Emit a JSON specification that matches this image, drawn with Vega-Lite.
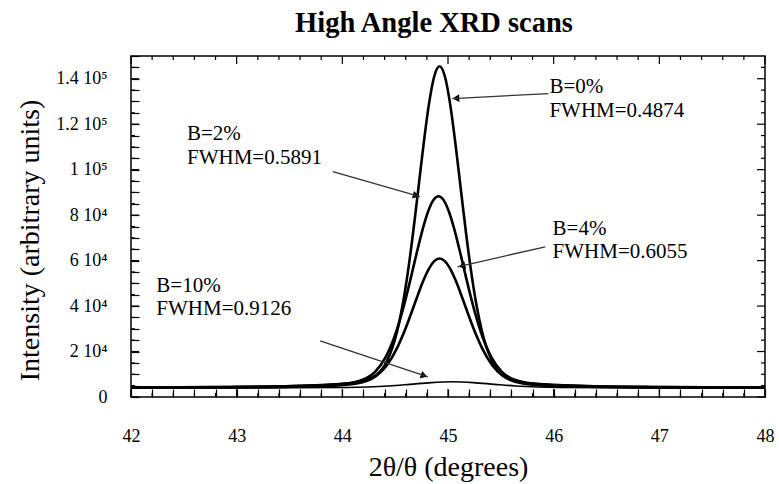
{
  "$schema": "https://vega.github.io/schema/vega-lite/v6.json",
  "width": 634,
  "height": 341,
  "autosize": "none",
  "padding": {"left": 131, "top": 56, "right": 14, "bottom": 87},
  "background": "white",
  "config": {
    "view": {"stroke": "#000", "strokeWidth": 1.5},
    "font": "Liberation Serif",
    "axis": {"grid": false, "domain": false, "tickColor": "#000", "tickWidth": 1.2, "labelColor": "#000", "titleColor": "#000", "labelFont": "Liberation Serif", "titleFont": "Liberation Serif", "titleFontWeight": "normal"}
  },
  "title": {"text": "High Angle XRD scans", "font": "Liberation Serif", "fontSize": 28.5, "fontWeight": "bold", "color": "#000", "anchor": "middle", "dx": -14, "offset": 10},
  "datasets": {
    "xmaj": [{"v": 42}, {"v": 43}, {"v": 44}, {"v": 45}, {"v": 46}, {"v": 47}, {"v": 48}],
    "xmin": [{"v": 42.2}, {"v": 42.4}, {"v": 42.6}, {"v": 42.8}, {"v": 43.2}, {"v": 43.4}, {"v": 43.6}, {"v": 43.8}, {"v": 44.2}, {"v": 44.4}, {"v": 44.6}, {"v": 44.8}, {"v": 45.2}, {"v": 45.4}, {"v": 45.6}, {"v": 45.8}, {"v": 46.2}, {"v": 46.4}, {"v": 46.6}, {"v": 46.8}, {"v": 47.2}, {"v": 47.4}, {"v": 47.6}, {"v": 47.8}],
    "ymaj": [{"v": 0}, {"v": 20000}, {"v": 40000}, {"v": 60000}, {"v": 80000}, {"v": 100000}, {"v": 120000}, {"v": 140000}],
    "ymin": [{"v": 5000}, {"v": 10000}, {"v": 15000}, {"v": 25000}, {"v": 30000}, {"v": 35000}, {"v": 45000}, {"v": 50000}, {"v": 55000}, {"v": 65000}, {"v": 70000}, {"v": 75000}, {"v": 85000}, {"v": 90000}, {"v": 95000}, {"v": 105000}, {"v": 110000}, {"v": 115000}, {"v": 125000}, {"v": 130000}, {"v": 135000}, {"v": 145000}]
  },
  "layer": [
    {
      "encoding": {
        "x": {"field": "x", "type": "quantitative", "scale": {"domain": [42, 48], "nice": false, "zero": false},
          "axis": {"orient": "bottom", "values": [42,42.2,42.4,42.6,42.8,43,43.2,43.4,43.6,43.8,44,44.2,44.4,44.6,44.8,45,45.2,45.4,45.6,45.8,46,46.2,46.4,46.6,46.8,47,47.2,47.4,47.6,47.8,48],
            "tickSize": -8,
            "labelExpr": "abs(datum.value - round(datum.value)) < 0.001 ? format(datum.value, 'd') : ''",
            "labelFontSize": 18, "labelPadding": 38, "labelFlush": false, "labelOverlap": false,
            "title": "2θ/θ (degrees)", "titleFontSize": 28, "titleX": 317, "titleY": 78, "titleBaseline": "alphabetic", "titleAlign": "center", "titleAnchor": null}},
        "y": {"field": "y", "type": "quantitative", "scale": {"domain": [0, 150000], "nice": false},
          "axis": {"orient": "left", "values": [0,5000,10000,15000,20000,25000,30000,35000,40000,45000,50000,55000,60000,65000,70000,75000,80000,85000,90000,95000,100000,105000,110000,115000,120000,125000,130000,135000,140000,145000,150000],
            "tickSize": -8,
            "labelExpr": "datum.value === 0 ? '0' : (datum.value % 20000 !== 0 || datum.value > 140000) ? '' : datum.value < 100000 ? format(datum.value / 10000, 'd') + ' 10⁴' : (datum.value / 100000) + ' 10⁵'",
            "labelFontSize": 18, "labelPadding": 32, "labelOverlap": false, "labelFlush": false,
            "title": "Intensity (arbitrary units)", "titleFontSize": 28, "titleX": -93, "titleY": 184, "titleBaseline": "alphabetic", "titleAlign": "center", "titleAngle": -90}}
      },
      "layer": [
        {
          "data": {"values": [
            {"s": "B=0%", "x": 42, "y": 4190}, {"s": "B=0%", "x": 42.92, "y": 4410}, {"s": "B=0%", "x": 43.42, "y": 4730}, {"s": "B=0%", "x": 43.92, "y": 5590}, {"s": "B=0%", "x": 44.12, "y": 6460}, {"s": "B=0%", "x": 44.32, "y": 9700}, {"s": "B=0%", "x": 44.42, "y": 15550}, {"s": "B=0%", "x": 44.52, "y": 29160}, {"s": "B=0%", "x": 44.57, "y": 40340}, {"s": "B=0%", "x": 44.62, "y": 54840}, {"s": "B=0%", "x": 44.67, "y": 72370}, {"s": "B=0%", "x": 44.72, "y": 91890}, {"s": "B=0%", "x": 44.77, "y": 111580}, {"s": "B=0%", "x": 44.82, "y": 128960}, {"s": "B=0%", "x": 44.87, "y": 141100}, {"s": "B=0%", "x": 44.92, "y": 145500}, {"s": "B=0%", "x": 44.97, "y": 141100}, {"s": "B=0%", "x": 45.02, "y": 128960}, {"s": "B=0%", "x": 45.07, "y": 111580}, {"s": "B=0%", "x": 45.12, "y": 91890}, {"s": "B=0%", "x": 45.17, "y": 72370}, {"s": "B=0%", "x": 45.22, "y": 54840}, {"s": "B=0%", "x": 45.27, "y": 40340}, {"s": "B=0%", "x": 45.32, "y": 29160}, {"s": "B=0%", "x": 45.42, "y": 15550}, {"s": "B=0%", "x": 45.52, "y": 9700}, {"s": "B=0%", "x": 45.72, "y": 6460}, {"s": "B=0%", "x": 45.92, "y": 5590}, {"s": "B=0%", "x": 46.42, "y": 4730}, {"s": "B=0%", "x": 46.92, "y": 4410}, {"s": "B=0%", "x": 48, "y": 4180},
            {"s": "B=2%", "x": 42, "y": 4160}, {"s": "B=2%", "x": 42.91, "y": 4360}, {"s": "B=2%", "x": 43.41, "y": 4630}, {"s": "B=2%", "x": 43.91, "y": 5370}, {"s": "B=2%", "x": 44.11, "y": 6420}, {"s": "B=2%", "x": 44.31, "y": 11070}, {"s": "B=2%", "x": 44.41, "y": 17500}, {"s": "B=2%", "x": 44.51, "y": 28710}, {"s": "B=2%", "x": 44.56, "y": 36340}, {"s": "B=2%", "x": 44.61, "y": 45140}, {"s": "B=2%", "x": 44.66, "y": 54730}, {"s": "B=2%", "x": 44.71, "y": 64540}, {"s": "B=2%", "x": 44.76, "y": 73730}, {"s": "B=2%", "x": 44.81, "y": 81380}, {"s": "B=2%", "x": 44.86, "y": 86500}, {"s": "B=2%", "x": 44.91, "y": 88300}, {"s": "B=2%", "x": 44.96, "y": 86500}, {"s": "B=2%", "x": 45.01, "y": 81380}, {"s": "B=2%", "x": 45.06, "y": 73730}, {"s": "B=2%", "x": 45.11, "y": 64540}, {"s": "B=2%", "x": 45.16, "y": 54730}, {"s": "B=2%", "x": 45.21, "y": 45140}, {"s": "B=2%", "x": 45.26, "y": 36340}, {"s": "B=2%", "x": 45.31, "y": 28710}, {"s": "B=2%", "x": 45.41, "y": 17500}, {"s": "B=2%", "x": 45.51, "y": 11070}, {"s": "B=2%", "x": 45.71, "y": 6420}, {"s": "B=2%", "x": 45.91, "y": 5370}, {"s": "B=2%", "x": 46.41, "y": 4630}, {"s": "B=2%", "x": 46.91, "y": 4360}, {"s": "B=2%", "x": 48, "y": 4150},
            {"s": "B=4%", "x": 42, "y": 4120}, {"s": "B=4%", "x": 42.92, "y": 4250}, {"s": "B=4%", "x": 43.42, "y": 4450}, {"s": "B=4%", "x": 43.92, "y": 4980}, {"s": "B=4%", "x": 44.12, "y": 5790}, {"s": "B=4%", "x": 44.32, "y": 9300}, {"s": "B=4%", "x": 44.42, "y": 13920}, {"s": "B=4%", "x": 44.52, "y": 21720}, {"s": "B=4%", "x": 44.57, "y": 26900}, {"s": "B=4%", "x": 44.62, "y": 32790}, {"s": "B=4%", "x": 44.67, "y": 39140}, {"s": "B=4%", "x": 44.72, "y": 45560}, {"s": "B=4%", "x": 44.77, "y": 51530}, {"s": "B=4%", "x": 44.82, "y": 56470}, {"s": "B=4%", "x": 44.87, "y": 59750}, {"s": "B=4%", "x": 44.92, "y": 60900}, {"s": "B=4%", "x": 44.97, "y": 59750}, {"s": "B=4%", "x": 45.02, "y": 56470}, {"s": "B=4%", "x": 45.07, "y": 51530}, {"s": "B=4%", "x": 45.12, "y": 45560}, {"s": "B=4%", "x": 45.17, "y": 39140}, {"s": "B=4%", "x": 45.22, "y": 32790}, {"s": "B=4%", "x": 45.27, "y": 26900}, {"s": "B=4%", "x": 45.32, "y": 21720}, {"s": "B=4%", "x": 45.42, "y": 13920}, {"s": "B=4%", "x": 45.52, "y": 9300}, {"s": "B=4%", "x": 45.72, "y": 5790}, {"s": "B=4%", "x": 45.92, "y": 4980}, {"s": "B=4%", "x": 46.42, "y": 4450}, {"s": "B=4%", "x": 46.92, "y": 4250}, {"s": "B=4%", "x": 48, "y": 4115},
            {"s": "B=10%", "x": 42, "y": 4010}, {"s": "B=10%", "x": 43.04, "y": 4027}, {"s": "B=10%", "x": 43.54, "y": 4047}, {"s": "B=10%", "x": 44.04, "y": 4170}, {"s": "B=10%", "x": 44.24, "y": 4389}, {"s": "B=10%", "x": 44.44, "y": 4849}, {"s": "B=10%", "x": 44.64, "y": 5573}, {"s": "B=10%", "x": 44.84, "y": 6344}, {"s": "B=10%", "x": 45.04, "y": 6700}, {"s": "B=10%", "x": 45.24, "y": 6344}, {"s": "B=10%", "x": 45.44, "y": 5573}, {"s": "B=10%", "x": 45.64, "y": 4849}, {"s": "B=10%", "x": 45.84, "y": 4389}, {"s": "B=10%", "x": 46.04, "y": 4170}, {"s": "B=10%", "x": 46.54, "y": 4047}, {"s": "B=10%", "x": 47.04, "y": 4027}, {"s": "B=10%", "x": 48, "y": 4012}
          ]},
          "mark": {"type": "line", "interpolate": "monotone", "color": "#000", "clip": true},
          "encoding": {
            "detail": {"field": "s", "type": "nominal"},
            "strokeWidth": {"condition": {"test": "datum.s === 'B=10%'", "value": 1.6}, "value": 2.6}
          }
        },
        {
          "data": {"values": [{"x": 45.075, "y": 131370}]},
          "mark": {"type": "point", "shape": "triangle-right", "angle": 177, "size": 60, "filled": true, "color": "#000", "opacity": 1}
        },
        {
          "data": {"values": [{"x": 44.699, "y": 88590}]},
          "mark": {"type": "point", "shape": "triangle-right", "angle": 16, "size": 60, "filled": true, "color": "#000", "opacity": 1}
        },
        {
          "data": {"values": [{"x": 45.132, "y": 57670}]},
          "mark": {"type": "point", "shape": "triangle-right", "angle": 167, "size": 60, "filled": true, "color": "#000", "opacity": 1}
        },
        {
          "data": {"values": [{"x": 44.774, "y": 9380}]},
          "mark": {"type": "point", "shape": "triangle-right", "angle": 18, "size": 60, "filled": true, "color": "#000", "opacity": 1}
        },
        {
          "data": {"values": [
            {"label": "B=0%", "x": 45.96, "y": 133900},
            {"label": "FWHM=0.4874", "x": 45.96, "y": 123300},
            {"label": "B=2%", "x": 42.53, "y": 113220},
            {"label": "FWHM=0.5891", "x": 42.53, "y": 102640},
            {"label": "B=4%", "x": 45.99, "y": 71370},
            {"label": "FWHM=0.6055", "x": 45.99, "y": 61230},
            {"label": "B=10%", "x": 42.24, "y": 46260},
            {"label": "FWHM=0.9126", "x": 42.24, "y": 36120}
          ]},
          "mark": {"type": "text", "align": "left", "baseline": "alphabetic", "font": "Liberation Serif", "fontSize": 21, "color": "#000"},
          "encoding": {"text": {"field": "label", "type": "nominal"}}
        }
      ]
    },
    {
      "data": {"values": [
        {"a": "B=0%", "x": 45.95, "y": 133480, "x2": 45.04, "y2": 131280},
        {"a": "B=2%", "x": 43.91, "y": 99120, "x2": 44.735, "y2": 88110},
        {"a": "B=4%", "x": 45.92, "y": 66080, "x2": 45.09, "y2": 57270},
        {"a": "B=10%", "x": 43.79, "y": 24670, "x2": 44.81, "y2": 8810}
      ]},
      "mark": {"type": "rule", "color": "#333", "strokeWidth": 1.3},
      "encoding": {
        "x": {"field": "x", "type": "quantitative", "scale": {"domain": [42, 48], "nice": false, "zero": false}, "axis": null},
        "y": {"field": "y", "type": "quantitative", "scale": {"domain": [0, 150000], "nice": false}, "axis": null},
        "x2": {"field": "x2"},
        "y2": {"field": "y2"}
      }
    },
    {
      "data": {"name": "xmaj"},
      "mark": {"type": "tick", "orient": "vertical", "size": 8, "thickness": 1.2, "yOffset": -4, "color": "#000", "opacity": 1},
      "encoding": {
        "x": {"field": "v", "type": "quantitative", "scale": {"domain": [42, 48], "nice": false, "zero": false}, "axis": null},
        "y": {"datum": 0, "type": "quantitative", "scale": {"domain": [0, 150000], "nice": false}, "axis": null}
      }
    },
    {
      "data": {"name": "xmin"},
      "mark": {"type": "tick", "orient": "vertical", "size": 4, "thickness": 1.2, "yOffset": -2, "color": "#000", "opacity": 1},
      "encoding": {
        "x": {"field": "v", "type": "quantitative", "scale": {"domain": [42, 48], "nice": false, "zero": false}, "axis": null},
        "y": {"datum": 0, "type": "quantitative", "scale": {"domain": [0, 150000], "nice": false}, "axis": null}
      }
    },
    {
      "data": {"name": "xmaj"},
      "mark": {"type": "tick", "orient": "vertical", "size": 8, "thickness": 1.2, "yOffset": 4, "color": "#000", "opacity": 1},
      "encoding": {
        "x": {"field": "v", "type": "quantitative", "scale": {"domain": [42, 48], "nice": false, "zero": false}, "axis": null},
        "y": {"datum": 150000, "type": "quantitative", "scale": {"domain": [0, 150000], "nice": false}, "axis": null}
      }
    },
    {
      "data": {"name": "xmin"},
      "mark": {"type": "tick", "orient": "vertical", "size": 4, "thickness": 1.2, "yOffset": 2, "color": "#000", "opacity": 1},
      "encoding": {
        "x": {"field": "v", "type": "quantitative", "scale": {"domain": [42, 48], "nice": false, "zero": false}, "axis": null},
        "y": {"datum": 150000, "type": "quantitative", "scale": {"domain": [0, 150000], "nice": false}, "axis": null}
      }
    },
    {
      "data": {"name": "ymaj"},
      "mark": {"type": "tick", "orient": "horizontal", "size": 8, "thickness": 1.2, "xOffset": 4, "color": "#000", "opacity": 1},
      "encoding": {
        "x": {"datum": 42, "type": "quantitative", "scale": {"domain": [42, 48], "nice": false, "zero": false}, "axis": null},
        "y": {"field": "v", "type": "quantitative", "scale": {"domain": [0, 150000], "nice": false}, "axis": null}
      }
    },
    {
      "data": {"name": "ymin"},
      "mark": {"type": "tick", "orient": "horizontal", "size": 4, "thickness": 1.2, "xOffset": 2, "color": "#000", "opacity": 1},
      "encoding": {
        "x": {"datum": 42, "type": "quantitative", "scale": {"domain": [42, 48], "nice": false, "zero": false}, "axis": null},
        "y": {"field": "v", "type": "quantitative", "scale": {"domain": [0, 150000], "nice": false}, "axis": null}
      }
    },
    {
      "data": {"name": "ymaj"},
      "mark": {"type": "tick", "orient": "horizontal", "size": 8, "thickness": 1.2, "xOffset": -4, "color": "#000", "opacity": 1},
      "encoding": {
        "x": {"datum": 48, "type": "quantitative", "scale": {"domain": [42, 48], "nice": false, "zero": false}, "axis": null},
        "y": {"field": "v", "type": "quantitative", "scale": {"domain": [0, 150000], "nice": false}, "axis": null}
      }
    },
    {
      "data": {"name": "ymin"},
      "mark": {"type": "tick", "orient": "horizontal", "size": 4, "thickness": 1.2, "xOffset": -2, "color": "#000", "opacity": 1},
      "encoding": {
        "x": {"datum": 48, "type": "quantitative", "scale": {"domain": [42, 48], "nice": false, "zero": false}, "axis": null},
        "y": {"field": "v", "type": "quantitative", "scale": {"domain": [0, 150000], "nice": false}, "axis": null}
      }
    }
  ],
  "resolve": {"scale": {"x": "independent", "y": "independent"}}
}
